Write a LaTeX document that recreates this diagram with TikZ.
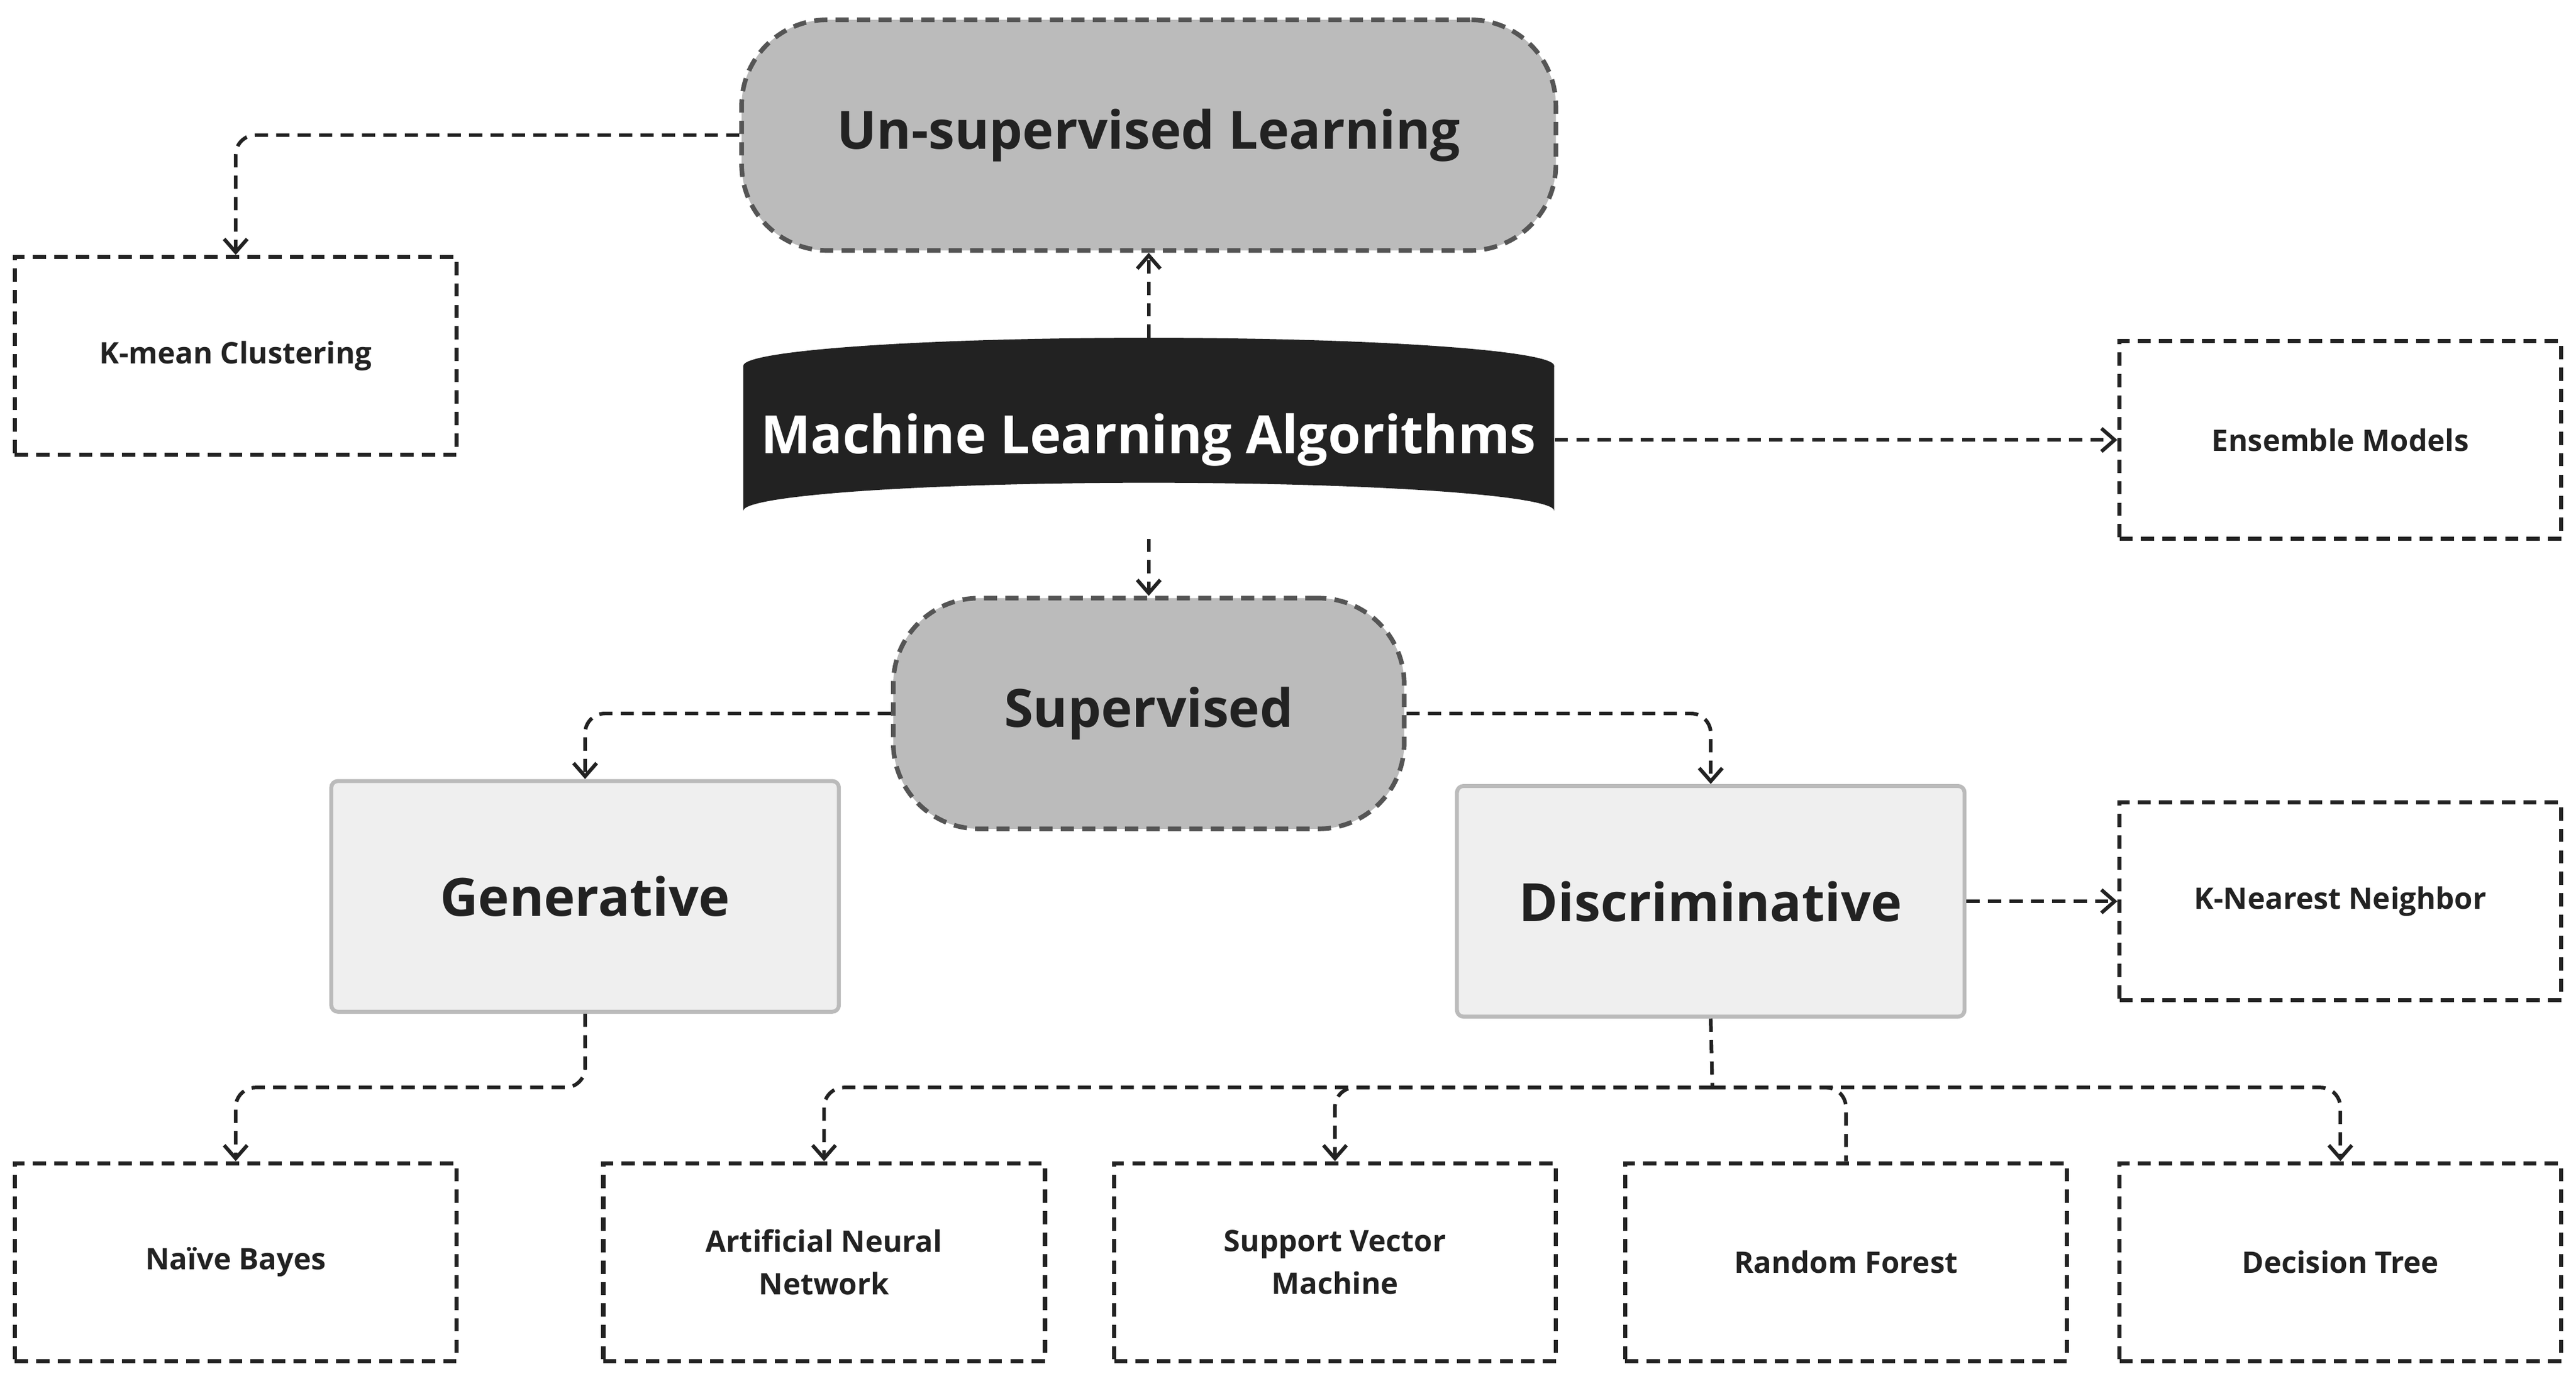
\documentclass[tikz,border=0pt]{standalone}
\usepackage{fontspec}
\setmainfont{Open Sans}
\usetikzlibrary{arrows.meta}
\definecolor{ink}{HTML}{222222}
\definecolor{dgray}{HTML}{555555}
\definecolor{mgray}{HTML}{BBBBBB}
\definecolor{lgray}{HTML}{EFEFEF}
\begin{document}
\begin{tikzpicture}[x=0.5pt,y=-0.5pt,
  dsh/.style={dash pattern=on 4pt off 2.5pt},
  leaf/.style={draw=ink,line width=1.3pt,dsh,minimum width=134pt,minimum height=60pt,inner sep=0pt,align=center,font=\bfseries\fontsize{9}{13}\selectfont,text=ink},
  pill/.style={draw=dgray,fill=mgray,line width=1.4pt,dsh,rounded corners=26pt,inner sep=0pt,font=\bfseries\fontsize{16}{18}\selectfont,text=ink},
  cat/.style={draw=mgray,fill=lgray,line width=1.2pt,rounded corners=2pt,minimum width=154pt,minimum height=70pt,inner sep=0pt,font=\bfseries\fontsize{16}{18}\selectfont,text=ink},
  con/.style={draw=ink,line width=1.1pt,dsh,rounded corners=6pt,-{Straight Barb[length=4pt,width=7pt]}},
  conn/.style={draw=ink,line width=1.1pt,dsh,rounded corners=6pt}]
\useasboundingbox (0,0) rectangle (1563,841);
\node[pill,minimum width=247pt,minimum height=70pt] (uns) at (697,82) {Un-supervised Learning};
\node[leaf] (km) at (143,216) {K-mean Clustering};
% cylinder
\fill[ink] (451,222) -- (451,310) arc[start angle=180,end angle=360,x radius=246,y radius=17] -- (943,222) -- cycle;
\fill[ink] (697,222) ellipse[x radius=246,y radius=17];
\node[inner sep=0pt,minimum width=246pt,minimum height=61pt,text=white,font=\bfseries\fontsize{16}{18}\selectfont] (mla) at (697,267) {Machine Learning Algorithms};
\node[leaf] (ens) at (1420,267) {Ensemble Models};
\node[pill,minimum width=155pt,minimum height=70pt] (sup) at (697,433) {Supervised};
\node[cat] (gen) at (355,544) {Generative};
\node[cat] (dis) at (1038,547) {Discriminative};
\node[leaf] (knn) at (1420,547) {K-Nearest Neighbor};
\node[leaf] (nb) at (143,766) {Naïve Bayes};
\node[leaf] (ann) at (500,766) {Artificial Neural\\Network};
\node[leaf] (svm) at (810,766) {Support Vector\\Machine};
\node[leaf] (rf) at (1120,766) {Random Forest};
\node[leaf] (dt) at (1420,766) {Decision Tree};
\coordinate (j) at (1039,660);
% connectors
\draw[con] (uns.west) -| (km.north);
\draw[con] (697,205) -- (uns.south);
\draw[con] (mla.east) -- (ens.west);
\draw[con] (697,327) -- (sup.north);
\draw[con] (sup.west) -| (gen.north);
\draw[con] (sup.east) -| (dis.north);
\draw[con] (dis.east) -- (knn.west);
\draw[con] (gen.south) |- (250,660) -| (nb.north);
\draw[conn] (dis.south) -- (j);
\draw[con] (j) -| (ann.north);
\draw[con] (j) -| (svm.north);
\draw[conn] (j) -| (rf.north);
\draw[con] (j) -| (dt.north);
\end{tikzpicture}
\end{document}
